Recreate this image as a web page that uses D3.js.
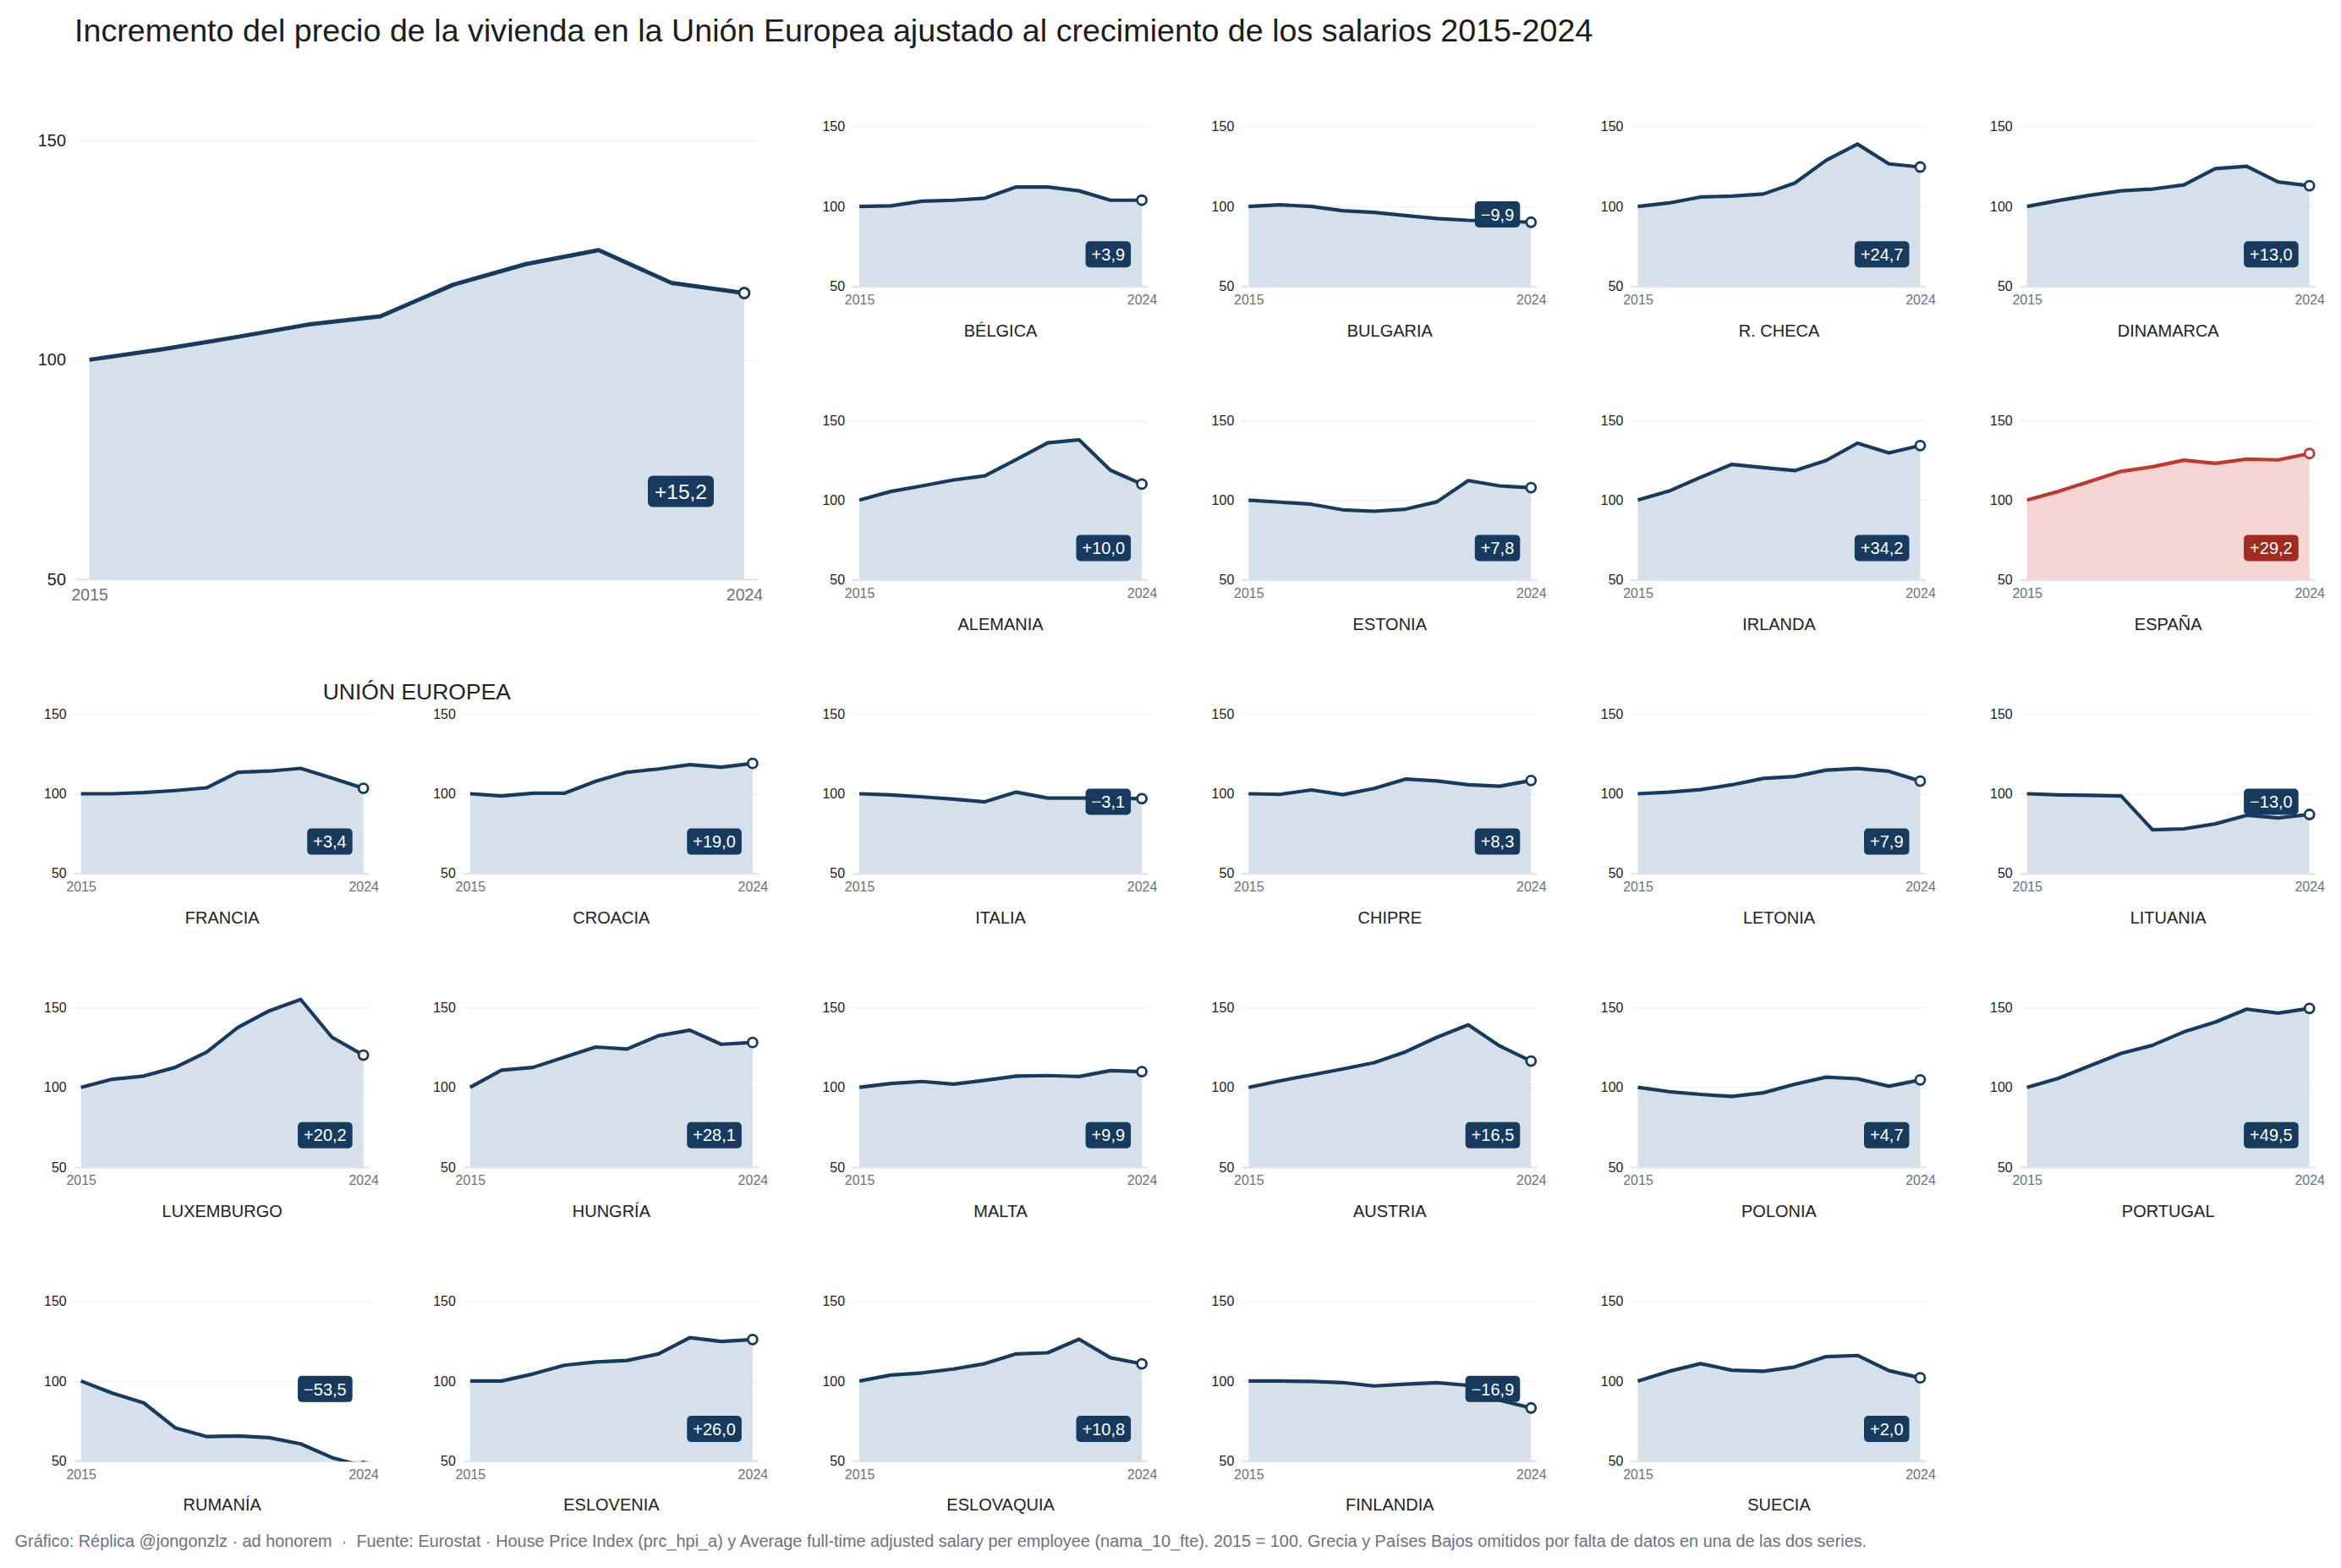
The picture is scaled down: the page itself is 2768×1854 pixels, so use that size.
<!DOCTYPE html>
<html>
<head>
<meta charset="utf-8">
<script src="https://cdn.jsdelivr.net/npm/d3@7"></script>
<style>
    body { margin: 0; background: #fff; }
    svg { display: block; font-family: "Liberation Sans", Arial, Helvetica, sans-serif; }
</style>
</head>
<body>
<svg id="chart"></svg>
<script>
// años y ticks
const anios = [2015, 2016, 2017, 2018, 2019, 2020, 2021, 2022, 2023, 2024]
const yTicks = [50, 100, 150]
const xTicks = [2015, 2024]

// índice precio vivienda / salario, 2015 = 100
const ue         = [100, 102.4, 105.1, 108.0, 109.9, 117.1, 121.8, 125.0, 117.5, 115.2]
const belgica    = [100, 100.4, 103.3, 103.9, 105.2, 112.2, 112.2, 109.8, 103.9, 103.9]
const bulgaria   = [100, 101.0, 100.0, 97.3, 96.3, 94.3, 92.4, 91.3, 90.8, 90.1]
const rcheca     = [100, 102.2, 105.9, 106.5, 107.8, 114.6, 128.9, 139.1, 126.7, 124.7]
const dinamarca  = [100, 103.7, 107.0, 109.8, 110.9, 113.5, 123.7, 125.2, 115.4, 113.0]
const alemania   = [100, 105.4, 108.9, 112.6, 115.2, 125.4, 135.9, 137.8, 118.7, 110.0]
const estonia    = [100, 98.7, 97.4, 93.9, 93.0, 94.3, 98.9, 112.2, 108.9, 107.8]
const irlanda    = [100, 105.7, 114.3, 122.4, 120.4, 118.5, 124.8, 135.7, 129.6, 134.2]
const espana     = [100, 105.4, 111.7, 118.0, 120.9, 125.0, 123.0, 125.7, 125.2, 129.2]
const francia    = [100, 100.0, 100.7, 102.0, 103.7, 113.5, 114.2, 115.9, 109.8, 103.4]
const croacia    = [100, 98.6, 100.3, 100.3, 107.8, 113.5, 115.5, 118.2, 116.6, 119.0]
const italia     = [100, 99.3, 98.0, 96.6, 94.9, 101.0, 97.3, 97.3, 97.3, 96.9]
const chipre     = [100, 99.6, 102.4, 99.4, 103.3, 109.2, 108.0, 105.6, 104.7, 108.3]
const letonia    = [100, 101.0, 102.6, 105.6, 109.6, 110.8, 114.8, 115.8, 114.1, 107.9]
const lituania   = [100, 99.3, 99.0, 98.6, 77.4, 78.0, 81.1, 86.5, 84.8, 87.0]
const luxemburgo = [100, 105.1, 107.1, 112.5, 122.0, 137.5, 148.0, 155.1, 131.4, 120.2]
const hungria    = [100, 110.8, 112.5, 118.9, 125.3, 124.0, 132.4, 135.8, 127.0, 128.1]
const malta      = [100, 102.4, 103.7, 102.0, 104.4, 107.1, 107.4, 106.8, 110.5, 109.9]
const austria    = [100, 104.1, 107.8, 111.5, 115.5, 122.3, 131.4, 139.2, 126.0, 116.5]
const polonia    = [100, 97.3, 95.6, 94.3, 96.6, 102.0, 106.4, 105.4, 100.7, 104.7]
const portugal   = [100, 105.7, 113.5, 121.3, 126.4, 134.8, 140.9, 149.0, 146.6, 149.5]
const rumania    = [100, 92.4, 86.3, 70.7, 65.2, 65.5, 64.5, 60.6, 52.0, 46.5]
const eslovenia  = [100, 100.0, 104.4, 109.9, 111.9, 112.9, 117.0, 127.2, 124.8, 126.0]
const eslovaquia = [100, 103.7, 105.1, 107.5, 110.9, 117.0, 117.7, 126.2, 114.6, 110.8]
const finlandia  = [100, 100.0, 99.7, 99.0, 96.9, 98.0, 99.0, 97.3, 88.0, 83.1]
const suecia     = [100, 106.1, 110.9, 106.8, 106.1, 108.8, 115.3, 116.0, 106.5, 102.0]

const paises = [
    ['BÉLGICA', belgica], ['BULGARIA', bulgaria], ['R. CHECA', rcheca], ['DINAMARCA', dinamarca],
    ['ALEMANIA', alemania], ['ESTONIA', estonia], ['IRLANDA', irlanda], ['ESPAÑA', espana],
    ['FRANCIA', francia], ['CROACIA', croacia], ['ITALIA', italia], ['CHIPRE', chipre],
    ['LETONIA', letonia], ['LITUANIA', lituania], ['LUXEMBURGO', luxemburgo], ['HUNGRÍA', hungria],
    ['MALTA', malta], ['AUSTRIA', austria], ['POLONIA', polonia], ['PORTUGAL', portugal],
    ['RUMANÍA', rumania], ['ESLOVENIA', eslovenia], ['ESLOVAQUIA', eslovaquia], ['FINLANDIA', finlandia],
    ['SUECIA', suecia]
]
const destacado = 'ESPAÑA'

const titulo = 'Incremento del precio de la vivienda en la Unión Europea ajustado al crecimiento de los salarios 2015-2024'
const fuente = 'Gráfico: Réplica @jongonzlz · ad honorem  ·  Fuente: Eurostat · House Price Index (prc_hpi_a) y Average full-time adjusted salary per employee (nama_10_fte). 2015 = 100. Grecia y Países Bajos omitidos por falta de datos en una de las dos series.'

const W = 2768, H = 1854
const svg = d3.select('#chart').attr('width', W).attr('height', H)

const azul = { line: '#173a5f', area: '#d6e0ea', badge: '#173a5f' }
const rojo = { line: '#c0392b', area: '#f5d5d3', badge: '#a12a21' }

let clipId = 0

class AreaChart {

    constructor(_config, _data) {
        this.config = Object.assign({
            x: 0, y: 0, width: 334, height: 188.6,
            padL: 8, padR: 7,
            tickFont: 16, tickPad: 9,
            yearFont: 16, yearPad: 10,
            badgeFont: 20, badgeH: 31, badgeInset: 13, badgePad: 7,
            labelFont: 20, labelDy: 52,
            lineWidth: 4.2, radius: 5.5,
            colors: azul
        }, _config)

        this.data = _data
        this.initVis()
    }

    initVis() {
        let vis = this
        let c = vis.config

        vis.chart = svg.append('g')
            .attr('transform', `translate(${c.x}, ${c.y})`)

        vis.xScale = d3.scaleLinear()
            .domain(d3.extent(anios))
            .range([0, c.width])

        vis.yScale = d3.scaleLinear()
            .domain(d3.extent(yTicks))
            .range([c.height, 0])

        vis.yAxis = d3.axisLeft(vis.yScale)
            .tickValues(yTicks)
            .tickSize(-(c.width + c.padL + c.padR))
            .tickPadding(c.tickPad)

        vis.xAxis = d3.axisBottom(vis.xScale)
            .tickValues(xTicks)
            .tickFormat(d3.format('d'))
            .tickSize(0)
            .tickPadding(c.yearPad)

        vis.renderVis()
    }

    renderVis() {
        let vis = this
        let c = vis.config

        let yAxisGroup = vis.chart.append('g')
            .attr('transform', `translate(${-c.padL}, 0)`)
            .call(vis.yAxis)
        yAxisGroup.select('.domain').remove()
        yAxisGroup.selectAll('.tick line')
            .attr('stroke', d => d === 50 ? '#e3e7ed' : '#edf0f4')
            .attr('stroke-width', d => d === 50 ? 2.5 : 1.3)
        yAxisGroup.selectAll('.tick text')
            .attr('fill', '#222')
            .style('font-size', c.tickFont + 'px')
            .style('font-family', 'inherit')

        let xAxisGroup = vis.chart.append('g')
            .attr('transform', `translate(0, ${c.height})`)
            .call(vis.xAxis)
        xAxisGroup.select('.domain').remove()
        xAxisGroup.selectAll('.tick text')
            .attr('fill', '#6b7280')
            .style('font-size', c.yearFont + 'px')
            .style('font-family', 'inherit')

        let id = 'clip' + (clipId++)
        vis.chart.append('clipPath').attr('id', id)
            .append('rect')
            .attr('x', -20).attr('y', -60)
            .attr('width', c.width + 40).attr('height', c.height + 61)

        let points = vis.data.values.map((v, i) => [anios[i], v])

        let area = d3.area()
            .x(d => vis.xScale(d[0]))
            .y0(c.height)
            .y1(d => vis.yScale(d[1]))

        let line = d3.line()
            .x(d => vis.xScale(d[0]))
            .y(d => vis.yScale(d[1]))

        let plot = vis.chart.append('g').attr('clip-path', `url(#${id})`)

        plot.append('path')
            .datum(points)
            .attr('fill', c.colors.area)
            .attr('d', area)

        plot.append('path')
            .datum(points)
            .attr('fill', 'none')
            .attr('stroke', c.colors.line)
            .attr('stroke-width', c.lineWidth)
            .attr('stroke-linejoin', 'round')
            .attr('d', line)

        let last = points[points.length - 1]
        plot.append('circle')
            .attr('cx', vis.xScale(last[0]))
            .attr('cy', vis.yScale(last[1]))
            .attr('r', c.radius)
            .attr('fill', '#fff')
            .attr('stroke', c.colors.line)
            .attr('stroke-width', 2.8)

        // etiqueta de variación
        let change = last[1] - 100
        let txt = (change < 0 ? '−' : '+') + Math.abs(change).toFixed(1).replace('.', ',')
        let badgeY = vis.yScale(change < 0 ? 95 : 70)

        let badge = vis.chart.append('g')
        let rect = badge.append('rect')
            .attr('fill', c.colors.badge)
            .attr('rx', c.badgeH * 0.16)
        let t = badge.append('text')
            .attr('fill', '#fff')
            .attr('text-anchor', 'middle')
            .attr('dy', '0.36em')
            .style('font-size', c.badgeFont + 'px')
            .text(txt)
        let bw = t.node().getComputedTextLength() + 2 * c.badgePad
        let bx = c.width - c.badgeInset - bw
        rect.attr('x', bx).attr('y', badgeY - c.badgeH / 2)
            .attr('width', bw).attr('height', c.badgeH)
        t.attr('x', bx + bw / 2).attr('y', badgeY)

        vis.chart.append('text')
            .attr('x', c.width / 2)
            .attr('y', c.height + c.labelDy)
            .attr('dy', '0.36em')
            .attr('text-anchor', 'middle')
            .attr('fill', '#222')
            .style('font-size', c.labelFont + 'px')
            .text(vis.data.name)
    }
}

svg.append('text')
    .attr('x', 88).attr('y', 35).attr('dy', '0.36em')
    .attr('fill', '#1c1c1c')
    .style('font-size', '37.7px')
    .text(titulo)

// gráfico grande: Unión Europea
new AreaChart({
    x: 105.7, y: 166, width: 774.3, height: 518.7,
    padL: 16.3, padR: 17,
    tickFont: 20, tickPad: 11.4,
    yearFont: 19.5, yearPad: 11,
    badgeFont: 24.5, badgeH: 37, badgeInset: 36, badgePad: 8,
    labelFont: 26.5, labelDy: 132.7,
    lineWidth: 5, radius: 6
}, { name: 'UNIÓN EUROPEA', values: ue })

// pequeños múltiplos
const colX0 = 95.7, colStep = 460.2, rowY0 = 149.8, rowStep = 347.2
paises.forEach(([name, values], i) => {
    let row, col
    if (i < 8) { row = Math.floor(i / 4); col = 2 + i % 4 }
    else { row = 2 + Math.floor((i - 8) / 6); col = (i - 8) % 6 }
    new AreaChart({
        x: colX0 + col * colStep,
        y: rowY0 + row * rowStep,
        colors: name === destacado ? rojo : azul
    }, { name, values })
})

svg.append('text')
    .attr('x', 17.6).attr('y', 1822).attr('dy', '0.36em')
    .attr('fill', '#6b7280')
    .style('font-size', '19.9px')
    .style('white-space', 'pre')
    .text(fuente)
</script>
</body>
</html>
